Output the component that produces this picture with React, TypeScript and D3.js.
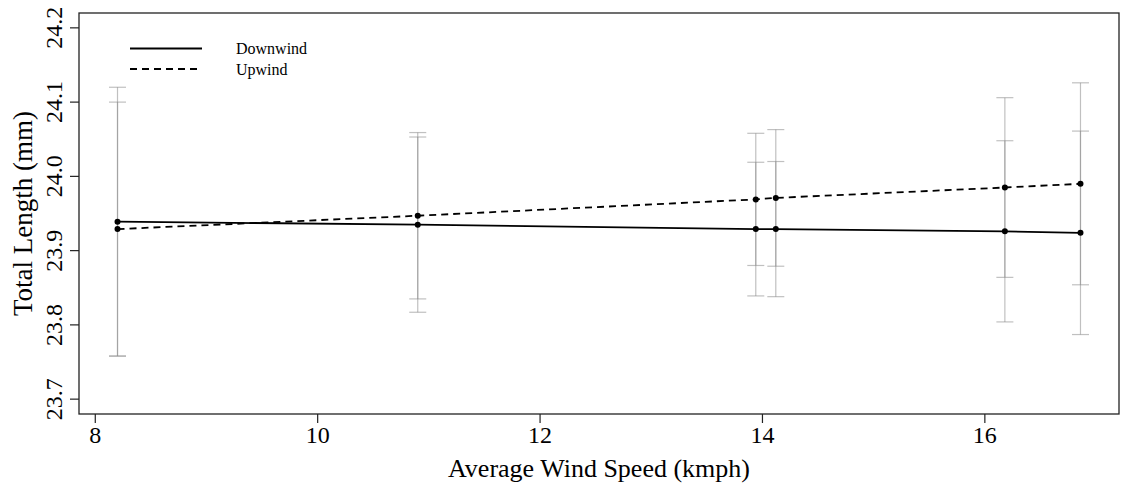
import React from "react";
import * as d3 from "d3";

const windSpeed = [8.2, 10.9, 13.94, 14.12, 16.18, 16.86];
const downwind = [23.939, 23.935, 23.929, 23.929, 23.926, 23.924];
const downwindErr = [0.181, 0.118, 0.09, 0.091, 0.122, 0.137];
const upwind = [23.929, 23.947, 23.969, 23.971, 23.985, 23.99];
const upwindErr = [0.171, 0.112, 0.089, 0.092, 0.121, 0.136];
const xTicks = [8, 10, 12, 14, 16];
const yTicks = [23.7, 23.8, 23.9, 24.0, 24.1, 24.2];
const yLimits = [23.7, 24.2];
const seriesNames = ["Downwind", "Upwind"];

const W = 1126;
const H = 487;
const M = { left: 79, right: 1119, top: 13, bottom: 414 };
const FONT = "'Liberation Serif', 'Times New Roman', serif";

export default function App() {
  const xMin = d3.min(windSpeed) as number;
  const xMax = d3.max(windSpeed) as number;
  const xPad = (xMax - xMin) * 0.04;
  const yPad = (yLimits[1] - yLimits[0]) * 0.04;
  const x = d3.scaleLinear().domain([xMin - xPad, xMax + xPad]).range([M.left, M.right]);
  const y = d3.scaleLinear().domain([yLimits[0] - yPad, yLimits[1] + yPad]).range([M.bottom, M.top]);

  const line = d3
    .line<number>()
    .x((_, i) => x(windSpeed[i]))
    .y((d) => y(d));

  const series = [
    { vals: downwind, err: downwindErr, dash: undefined as string | undefined },
    { vals: upwind, err: upwindErr, dash: "7,5" },
  ];

  const cap = 8.5;

  return (
    <svg
      width={W}
      height={H}
      style={{ position: "absolute", left: 0, top: 0, background: "#fff" }}
      fontFamily={FONT}
    >
      <rect x={0} y={0} width={W} height={H} fill="#fff" />
      {/* error bars */}
      {series.map((s, si) =>
        s.vals.map((v, i) => {
          const cx = x(windSpeed[i]);
          const yHi = y(v + s.err[i]);
          const yLo = y(v - s.err[i]);
          return (
            <g key={`e${si}-${i}`} stroke="#8c8c8c" strokeOpacity={0.55} strokeWidth={1.2}>
              <line x1={cx} x2={cx} y1={yHi} y2={yLo} />
              <line x1={cx - cap} x2={cx + cap} y1={yHi} y2={yHi} />
              <line x1={cx - cap} x2={cx + cap} y1={yLo} y2={yLo} />
            </g>
          );
        })
      )}
      {/* lines */}
      {series.map((s, si) => (
        <path
          key={`l${si}`}
          d={line(s.vals) || ""}
          fill="none"
          stroke="#000"
          strokeWidth={1.8}
          strokeDasharray={s.dash}
        />
      ))}
      {/* points */}
      {series.map((s, si) =>
        s.vals.map((v, i) => (
          <circle key={`p${si}-${i}`} cx={x(windSpeed[i])} cy={y(v)} r={3} fill="#000" />
        ))
      )}
      {/* box */}
      <rect
        x={M.left}
        y={M.top}
        width={M.right - M.left}
        height={M.bottom - M.top}
        fill="none"
        stroke="#222"
        strokeWidth={1.3}
      />
      {/* x axis */}
      {xTicks.map((t) => (
        <g key={`xt${t}`}>
          <line x1={x(t)} x2={x(t)} y1={M.bottom} y2={M.bottom + 9} stroke="#222" strokeWidth={1.2} />
          <text x={x(t)} y={443} textAnchor="middle" fontSize={24} fill="#000">
            {t}
          </text>
        </g>
      ))}
      <text x={(M.left + M.right) / 2} y={477} textAnchor="middle" fontSize={26} fill="#000">
        Average Wind Speed (kmph)
      </text>
      {/* y axis */}
      {yTicks.map((t) => (
        <g key={`yt${t}`}>
          <line x1={M.left - 9} x2={M.left} y1={y(t)} y2={y(t)} stroke="#222" strokeWidth={1.2} />
          <text
            transform={`translate(62,${y(t)}) rotate(-90)`}
            textAnchor="middle"
            fontSize={24}
            fill="#000"
          >
            {t.toFixed(1)}
          </text>
        </g>
      ))}
      <text
        transform={`translate(32,${(M.top + M.bottom) / 2}) rotate(-90)`}
        textAnchor="middle"
        fontSize={27}
        fill="#000"
      >
        Total Length (mm)
      </text>
      {/* legend */}
      {seriesNames.map((n, i) => (
        <g key={`lg${i}`}>
          <line
            x1={130}
            x2={202}
            y1={48.5 + i * 20.5}
            y2={48.5 + i * 20.5}
            stroke="#000"
            strokeWidth={1.8}
            strokeDasharray={series[i].dash}
          />
          <text x={236} y={54 + i * 20.5} fontSize={16} fill="#000">
            {n}
          </text>
        </g>
      ))}
    </svg>
  );
}
